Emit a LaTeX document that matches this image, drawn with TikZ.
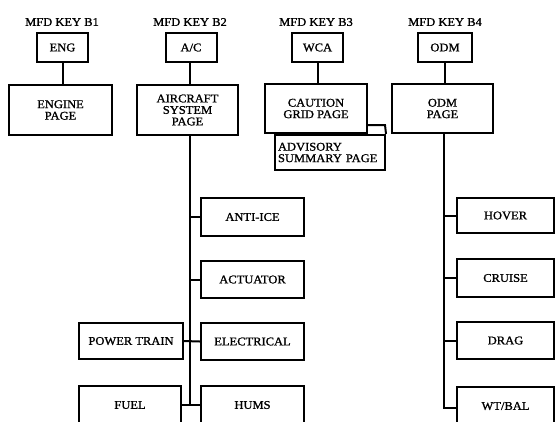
\documentclass[tikz,border=0pt]{standalone}
\usepackage{fontspec}
\setmainfont{Liberation Serif}[FakeStretch=1.06,FakeBold=1.2]
\newcommand\dgfs{\fontsize{11.8}{11.5}\selectfont}
\begin{document}
\begin{tikzpicture}[x=1pt,y=-1pt,
  box/.style={draw, line width=2pt, inner sep=0pt, align=center, font=\dgfs},
  lbl/.style={inner sep=0pt, font=\dgfs},
  wire/.style={line width=2pt}]
\useasboundingbox (0,0) rectangle (556,421);
\clip (0,0) rectangle (556,421);
% key labels
\node[lbl] (k1) at (62,22) {MFD KEY B1};
\node[lbl] (k2) at (190,22) {MFD KEY B2};
\node[lbl] (k3) at (316,22) {MFD KEY B3};
\node[lbl] (k4) at (445,22) {MFD KEY B4};
% key boxes
\node[box, minimum width=51pt, minimum height=29pt] (eng) at (62.5,47.5) {ENG};
\node[box, minimum width=51pt, minimum height=29pt] (ac) at (191,47.5) {A/C};
\node[box, minimum width=51pt, minimum height=29pt] (wca) at (317.5,47.5) {WCA};
\node[box, minimum width=54pt, minimum height=29pt] (odm) at (445,47.5) {ODM};
% pages
\node[box, minimum width=103pt, minimum height=50pt] (engpage) at (60.5,110) {ENGINE\\PAGE};
\node[box, minimum width=101pt, minimum height=50pt] (acpage) at (187.5,110) {AIRCRAFT\\SYSTEM\\PAGE};
\node[box, minimum width=102pt, minimum height=49pt] (caution) at (316,108.5) {CAUTION\\GRID PAGE};
\node[box, minimum width=101pt, minimum height=49pt] (odmpage) at (442.5,108.5) {ODM\\PAGE};
\node[box, minimum height=35pt, text width=104pt, inner xsep=3pt, align=left] (adv) at (330,152.5) {ADVISORY\\SUMMARY PAGE};
% aircraft sub-pages
\node[box, minimum width=103pt, minimum height=38pt] (antiice) at (252.5,217) {ANTI-ICE};
\node[box, minimum width=103pt, minimum height=37pt] (actuator) at (252.5,279.5) {ACTUATOR};
\node[box, minimum width=103pt, minimum height=37pt] (electrical) at (252.5,341.5) {ELECTRICAL};
\node[box, minimum width=103pt, minimum height=38pt] (hums) at (252.5,405) {HUMS};
\node[box, minimum width=104pt, minimum height=36pt] (power) at (131,341) {POWER TRAIN};
\node[box, minimum width=102pt, minimum height=38pt] (fuel) at (130,405) {FUEL};
% ODM sub-pages
\node[box, minimum width=97pt, minimum height=35pt] (hover) at (505.5,215.5) {HOVER};
\node[box, minimum width=97pt, minimum height=38pt] (cruise) at (505.5,278) {CRUISE};
\node[box, minimum width=97pt, minimum height=37pt] (drag) at (505.5,340.5) {DRAG};
\node[box, minimum width=97pt, minimum height=38pt] (wtbal) at (505.5,406) {WT/BAL};
% top connectors
\draw[wire] (eng.south) -- (eng.south |- engpage.north);
\draw[wire] (ac.south -| 190,0) -- (acpage.north -| 190,0);
\draw[wire] (wca.south) -- (wca.south |- caution.north);
\draw[wire] (odm.south) -- (odm.south |- odmpage.north);
% caution to advisory
\coordinate (advc) at (385,125);
\draw[wire] (caution.east |- advc) -- (advc) -- (adv.north east);
% aircraft bus
\coordinate (busA) at (190,405);
\draw[wire] (acpage.south -| busA) -- (busA);
\draw[wire] (antiice.west) -- (antiice.west -| busA);
\draw[wire] (actuator.west) -- (actuator.west -| busA);
\draw[wire] (electrical.west) -- (power.east);
\draw[wire] (fuel.east) -- (hums.west);
% ODM bus
\coordinate (busB) at (444,408);
\draw[wire] (odmpage.south -| busB) -- (busB) -- (wtbal.west |- busB);
\draw[wire] (hover.west) -- (hover.west -| busB);
\draw[wire] (cruise.west) -- (cruise.west -| busB);
\draw[wire] (drag.west) -- (drag.west -| busB);
\end{tikzpicture}
\end{document}
